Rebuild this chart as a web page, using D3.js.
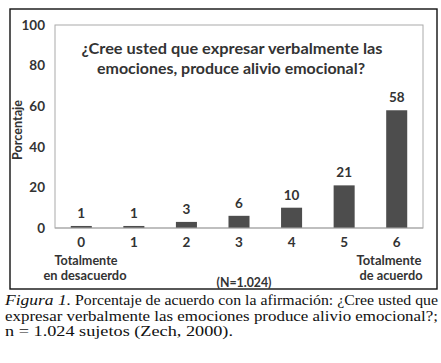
<!DOCTYPE html>
<html lang="es">
<head>
<meta charset="UTF-8">
<title>Figura 1</title>
<style>
  body { margin: 0; background: #fff; }
  svg text { font-family: Lato, "Open Sans", sans-serif; fill: #333; }
  .cap { font-family: "Liberation Serif", "Times New Roman", serif; fill: #111; font-size: 14px; }
</style>
</head>
<body>
<svg width="441" height="363"></svg>
<script src="https://d3js.org/d3.v7.min.js"></script>
<script>
// datos
const categories = ["0", "1", "2", "3", "4", "5", "6"];
const values = [1, 1, 3, 6, 10, 21, 58];
const yTicks = [0, 20, 40, 60, 80, 100];
const title = ["¿Cree usted que expresar verbalmente las", "emociones, produce alivio emocional?"];
const titleW = [301, 268];

const svg = d3.select("svg");
const plot = { left: 55, right: 423, top: 25, bottom: 228 };

// marco exterior
svg.append("rect").attr("x", 10).attr("y", 9).attr("width", 427).attr("height", 280)
  .attr("fill", "none").attr("stroke", "#111").attr("stroke-width", 1.4);

const x = d3.scaleBand().domain(categories).range([plot.left, plot.right]).paddingInner(0.6).paddingOuter(0.3);
const y = d3.scaleLinear().domain([0, 100]).range([plot.bottom, plot.top]);

// area del grafico
svg.append("rect").attr("x", plot.left).attr("y", y(100)).attr("width", plot.right - plot.left)
  .attr("height", y(0) - y(100)).attr("fill", "none").attr("stroke", "#aaa").attr("stroke-width", 1);

const yAxis = svg.append("g").attr("transform", `translate(${plot.left},0)`)
  .call(d3.axisLeft(y).tickValues(yTicks).tickSize(0).tickPadding(10));
yAxis.select(".domain").remove();
yAxis.selectAll("text").attr("font-size", 13.5).attr("font-weight", 700).style("fill", "#333")
  .style("font-family", "Lato, sans-serif");

svg.append("text").attr("transform", `translate(22,130) rotate(-90)`).attr("text-anchor", "middle")
  .attr("font-size", 13).attr("font-weight", 700)
  .attr("textLength", 60).attr("lengthAdjust", "spacingAndGlyphs").text("Porcentaje");

// barras
svg.append("g").selectAll("rect").data(values).join("rect")
  .attr("x", (d, i) => x(categories[i])).attr("width", x.bandwidth())
  .attr("y", d => y(d)).attr("height", d => y(0) - y(d)).attr("fill", "#4d4d4d");

svg.append("line").attr("x1", plot.left).attr("x2", plot.right).attr("y1", y(0)).attr("y2", y(0))
  .attr("stroke", "#aaa").attr("stroke-width", 1.2);

svg.append("g").selectAll("text").data(values).join("text")
  .attr("x", (d, i) => x(categories[i]) + x.bandwidth() / 2).attr("y", d => y(d) - 8)
  .attr("text-anchor", "middle").attr("font-size", 13.5).attr("font-weight", 700).text(d => d);

// eje x
const xAxis = svg.append("g").attr("transform", `translate(0,${plot.bottom})`)
  .call(d3.axisBottom(x).tickSize(0).tickPadding(9));
xAxis.select(".domain").remove();
xAxis.selectAll("text").attr("font-size", 13.5).attr("font-weight", 700).style("fill", "#333")
  .style("font-family", "Lato, sans-serif");

const xt = svg.append("g").attr("font-size", 13).attr("font-weight", 700).attr("text-anchor", "middle");
const lbl = (cx, cy, w, s) => xt.append("text").attr("x", cx).attr("y", cy)
  .attr("textLength", w).attr("lengthAdjust", "spacingAndGlyphs").text(s);
lbl(86, 265, 63, "Totalmente");
lbl(85, 280, 83, "en desacuerdo");
lbl(389, 265, 65, "Totalmente");
lbl(391, 280, 63, "de acuerdo");
lbl(244, 287, 55, "(N=1.024)");

// titulo
svg.append("g").selectAll("text").data(title).join("text")
  .attr("x", (d, i) => i ? 231 : 232).attr("y", (d, i) => 54 + i * 20).attr("text-anchor", "middle")
  .attr("font-size", 15.5).attr("font-weight", 700)
  .attr("textLength", (d, i) => titleW[i]).attr("lengthAdjust", "spacingAndGlyphs").text(d => d);

// pie de figura
const cap = (x0, y0, w, s, it) => svg.append("text").attr("class", "cap").attr("x", x0).attr("y", y0)
  .attr("font-style", it ? "italic" : "normal")
  .attr("textLength", w).attr("lengthAdjust", "spacingAndGlyphs").text(s);
cap(5, 305, 66, "Figura 1.", true);
cap(75, 305, 363, "Porcentaje de acuerdo con la afirmación: ¿Cree usted que", false);
cap(5, 320.5, 433, "expresar verbalmente las emociones produce alivio emocional?;", false);
cap(5, 336, 228, "n = 1.024 sujetos (Zech, 2000).", false);
</script>
</body>
</html>
